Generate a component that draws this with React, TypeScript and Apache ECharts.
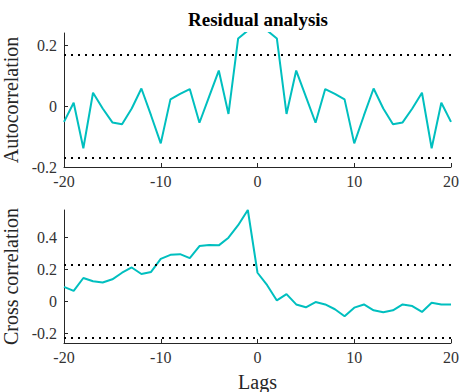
import React, { useEffect, useRef } from "react";
import * as echarts from "echarts";

// Lags shared by both panels
const lags = [
  -20, -19, -18, -17, -16, -15, -14, -13, -12, -11, -10, -9, -8, -7, -6, -5, -4, -3, -2, -1,
  0, 1, 2, 3, 4, 5, 6, 7, 8, 9, 10, 11, 12, 13, 14, 15, 16, 17, 18, 19, 20,
];

// Residual autocorrelation (lag 0 equals 1 and is clipped by the axis)
const autoCorr = [
  -0.051, 0.012, -0.138, 0.045, -0.007, -0.053, -0.059, -0.007, 0.059, -0.03, -0.122,
  0.023, 0.041, 0.057, -0.054, 0.032, 0.118, -0.025, 0.224, 0.25,
  1.0,
  0.25, 0.224, -0.025, 0.118, 0.032, -0.054, 0.057, 0.041, 0.023, -0.122,
  -0.03, 0.059, -0.007, -0.059, -0.053, -0.007, 0.045, -0.138, 0.012, -0.051,
];

// Cross correlation between input and residuals
const crossCorr = [
  0.091, 0.066, 0.146, 0.126, 0.118, 0.138, 0.179, 0.212, 0.171, 0.184, 0.266,
  0.291, 0.295, 0.27, 0.346, 0.353, 0.35, 0.398, 0.476, 0.571,
  0.179,
  0.101, 0.006, 0.045, -0.019, -0.037, -0.004, -0.019, -0.049, -0.093, -0.039,
  -0.019, -0.056, -0.068, -0.056, -0.019, -0.029, -0.066, -0.008, -0.019, -0.019,
];

// Confidence bounds
const autoBound = 0.172;
const crossBound = 0.231;

const autoTicks = [-0.2, 0, 0.2];
const crossTicks = [-0.2, 0, 0.2, 0.4];

const FONT = "'Liberation Serif', 'Times New Roman', serif";
const AXIS_COLOR = "#262626";
const LINE_COLOR = "#00BFBF";

export default function App() {
  const ref = useRef<HTMLDivElement>(null);

  useEffect(() => {
    if (!ref.current) return;
    const chart = echarts.init(ref.current, null, { renderer: "svg" });

    const xAxisBase = (gridIndex: number, name: string) => ({
      type: "value",
      gridIndex,
      min: -20,
      max: 20,
      interval: 10,
      name,
      nameLocation: "middle",
      nameGap: 29,
      nameTextStyle: { fontFamily: FONT, fontSize: 20, color: AXIS_COLOR },
      axisLine: { show: true, onZero: false, lineStyle: { color: AXIS_COLOR, width: 1 } },
      axisTick: { show: true, inside: true, length: 4, lineStyle: { color: AXIS_COLOR } },
      axisLabel: {
        fontFamily: FONT,
        fontSize: 16,
        color: "#333",
        margin: 6,
      },
      splitLine: { show: false },
    });

    const yAxisBase = (
      gridIndex: number,
      name: string,
      min: number,
      max: number,
      ticks: number[]
    ) => ({
      type: "value",
      gridIndex,
      min,
      max,
      name,
      nameLocation: "middle",
      nameGap: 33,
      nameTextStyle: { fontFamily: FONT, fontSize: 20, color: AXIS_COLOR },
      axisLine: { show: true, onZero: false, lineStyle: { color: AXIS_COLOR, width: 1 } },
      axisTick: {
        show: true,
        inside: true,
        length: 4,
        lineStyle: { color: AXIS_COLOR },
        customValues: ticks,
      },
      axisLabel: {
        fontFamily: FONT,
        fontSize: 16,
        color: "#333",
        margin: 7,
        customValues: ticks,
        formatter: (v: number) => {
          const hit = ticks.find((t) => Math.abs(t - v) < 1e-6);
          return hit === undefined ? "" : String(hit);
        },
      },
      splitLine: { show: false },
    });

    const markLineFor = (bound: number) => ({
      silent: true,
      symbol: "none",
      label: { show: false },
      lineStyle: { color: "#000", width: 2, type: [2, 5], cap: "butt" },
      data: [{ yAxis: bound }, { yAxis: -bound }],
    });

    chart.setOption({
      animation: false,
      backgroundColor: "#fff",
      graphic: [
        {
          type: "text",
          x: 258,
          y: 19,
          style: {
            text: "Residual analysis",
            fontFamily: FONT,
            fontWeight: "bold",
            fontSize: 19,
            fill: "#000",
            textAlign: "center",
            textVerticalAlign: "middle",
          },
        },
      ],
      grid: [
        { left: 64, right: 10, top: 33, height: 134, outerBoundsMode: "none" },
        { left: 64, right: 10, top: 210, height: 133, outerBoundsMode: "none" },
      ],
      xAxis: [xAxisBase(0, ""), xAxisBase(1, "Lags")],
      yAxis: [
        yAxisBase(0, "Autocorrelation", -0.2, 0.242, autoTicks),
        yAxisBase(1, "Cross correlation", -0.26, 0.571, crossTicks),
      ],
      series: [
        {
          type: "line",
          xAxisIndex: 0,
          yAxisIndex: 0,
          data: lags.map((l, i) => [l, autoCorr[i]]),
          showSymbol: false,
          clip: true,
          lineStyle: { color: LINE_COLOR, width: 2 },
          itemStyle: { color: LINE_COLOR },
          markLine: markLineFor(autoBound),
        },
        {
          type: "line",
          xAxisIndex: 1,
          yAxisIndex: 1,
          data: lags.map((l, i) => [l, crossCorr[i]]),
          showSymbol: false,
          clip: true,
          lineStyle: { color: LINE_COLOR, width: 2 },
          itemStyle: { color: LINE_COLOR },
          markLine: markLineFor(crossBound),
        },
      ],
    });

    return () => chart.dispose();
  }, []);

  return (
    <div
      ref={ref}
      style={{ position: "fixed", left: 0, top: 0, width: 461, height: 392 }}
    />
  );
}
